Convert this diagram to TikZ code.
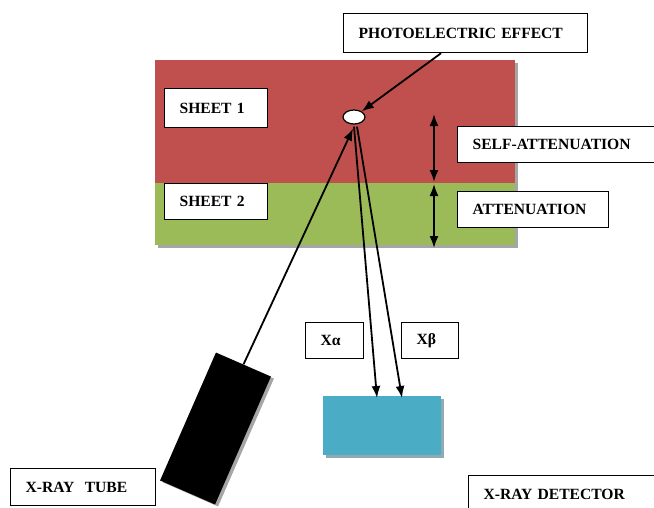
\documentclass[tikz,border=0pt]{standalone}
\usepackage{fontspec}
\setmainfont{Liberation Serif}
\usetikzlibrary{arrows.meta,shapes.geometric,calc}
\definecolor{sheetred}{HTML}{C0504D}
\definecolor{sheetgreen}{HTML}{9BBB59}
\definecolor{detcyan}{HTML}{4BACC6}
\definecolor{shadowgray}{HTML}{A6A6A6}
\definecolor{detshadow}{HTML}{8FAAB4}
\begin{document}
\begin{tikzpicture}[x=1pt,y=-1pt,
  labelbox/.style={draw=black, line width=1.2pt, fill=white, anchor=north west,
    inner xsep=15pt, inner ysep=0pt, align=left,
    font=\fontsize{15.6}{18}\selectfont\bfseries},
  slab/.style={anchor=north west, inner sep=0pt, outer sep=0pt, minimum width=360pt},
  ray/.style={line width=1.8pt, -{Latex[length=12pt,width=9pt]}},
  span/.style={line width=1.8pt, {Latex[length=12pt,width=9pt]}-{Latex[length=12pt,width=9pt]}},
  tubebody/.style={inner sep=0pt, minimum width=60pt, minimum height=139.6pt, rotate=-23.6}
]
\useasboundingbox (0,0) rectangle (654,507);

% the two sheets with their drop shadow
\fill[shadowgray] (158,63) rectangle (518,248);
\node[slab, fill=sheetred, minimum height=123pt] (s1) at (155,60) {};
\node[slab, fill=sheetgreen, minimum height=62pt] (s2) at (155,183) {};

% detector head with drop shadow
\node[anchor=north west, inner sep=0pt, fill=detshadow, minimum width=118pt, minimum height=59pt] (detsh) at (326,399) {};
\node[anchor=north west, inner sep=0pt, fill=detcyan, minimum width=118pt, minimum height=59pt] (det) at (323,396) {};

% x-ray tube body with drop shadow
\node[tubebody, fill=shadowgray] (tubesh) at (218.5,430.5) {};
\node[tubebody, fill=black] (tube) at (215.5,428.5) {};

% labels
\node[labelbox, text width=214pt, minimum height=39pt] (photo) at (343,13) {PHOTOELECTRIC EFFECT};
\node[labelbox, text width=73pt, minimum height=39pt] (sheet1) at (164,88) {SHEET 1};
\node[labelbox, text width=73pt, minimum height=36pt] (sheet2) at (164,183) {SHEET 2};
\node[labelbox, text width=180pt, minimum height=36pt] (self) at (457,126) {SELF-ATTENUATION};
\node[labelbox, text width=121pt, minimum height=36pt] (att) at (457,191) {ATTENUATION};
\node[labelbox, text width=28pt, minimum height=36pt] (xa) at (305,322) {Xα};
\node[labelbox, text width=27pt, minimum height=36pt] (xb) at (401,322) {Xβ};
\node[labelbox, text width=115pt, minimum height=37pt] (tubelabel) at (10,468) {X-RAY\ \ TUBE};
\node[labelbox, text width=165pt, minimum height=37pt] (detlabel) at (468,475) {X-RAY DETECTOR};

% interaction point
\node[draw=black, line width=1.2pt, fill=white, ellipse, inner sep=0pt,
  minimum width=22pt, minimum height=14pt] (spot) at (354,117) {};

% thickness markers
\coordinate (selftop) at (434,114);
\coordinate (selfbot) at (434,182);
\coordinate (atttop) at (434,184);
\coordinate (attbot) at (434,248);
\draw[span] (selftop) -- (selfbot);
\draw[span] (atttop) -- (attbot);

% rays
\draw[ray] ($(photo.south west)!0.4!(photo.south east)$) -- (spot);
\draw[ray] (tube.north) -- ($(spot.south)+(-1,4)$);
\draw[ray] ($(spot.south)+(0,2)$) -- ($(det.north west)+(54,2)$);
\draw[ray] ($(spot.south)+(3,2)$) -- ($(det.north west)+(79,2)$);
\end{tikzpicture}
\end{document}
